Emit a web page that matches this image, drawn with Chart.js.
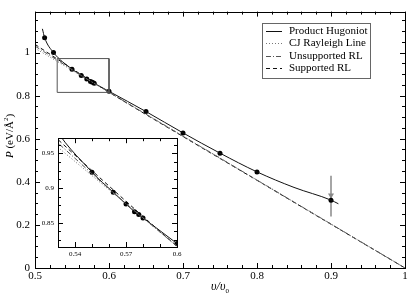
<!DOCTYPE html>
<html>
<head>
<meta charset="utf-8">
<script src="https://cdn.jsdelivr.net/npm/chart.js@4"></script>
<style>
  body { margin: 0; background: #fff; }
  #wrap { position: relative; width: 415px; height: 295px; }
  #main { position: absolute; left: 0; top: 0; }
  #inset { position: absolute; left: 35px; top: 130px; }
</style>
</head>
<body>
<div id="wrap">
  <canvas id="main" width="415" height="295"></canvas>
  <canvas id="inset" width="150" height="130"></canvas>
</div>
<script>
// values
var hugoniotV = [0.51, 0.513, 0.525, 0.55, 0.5625, 0.57, 0.575, 0.58, 0.6, 0.65, 0.7, 0.75, 0.8, 0.85, 0.9, 0.91];
var hugoniotP = [1.11, 1.069, 1.0, 0.923, 0.894, 0.877, 0.866, 0.857, 0.82, 0.726, 0.627, 0.533, 0.446, 0.374, 0.315, 0.298];

var simV = [0.513, 0.525, 0.55, 0.5625, 0.57, 0.575, 0.5775, 0.58, 0.6, 0.65, 0.7, 0.75, 0.8, 0.9];
var simP = [1.069, 1.0, 0.923, 0.894, 0.877, 0.866, 0.862, 0.857, 0.82, 0.726, 0.627, 0.533, 0.446, 0.315];

var rayleighV = [0.5, 1.0];
var rayleighP = [1.02, 0.0];

var unsupV = [0.5, 0.53, 0.56, 0.6, 0.7, 0.8, 0.9, 1.0];
var unsupP = [1.03, 0.965, 0.899, 0.816, 0.612, 0.408, 0.204, 0.0];

var supV = [0.5, 0.53, 0.56, 0.6, 0.7, 0.8, 0.9, 1.0];
var supP = [1.038, 0.97, 0.903, 0.816, 0.61, 0.407, 0.203, 0.0];

var arrowV = [0.9, 0.9];
var arrowP = [0.428, 0.239];
var arrowHeadP = [0.338];

var xTickVals = [0.5, 0.6, 0.7, 0.8, 0.9, 1];
var yTickVals = [0, 0.2, 0.4, 0.6, 0.8, 1];
var insetXTickVals = [0.54, 0.57, 0.6];
var insetYTickVals = [0.85, 0.9, 0.95];
var insetXRange = [0.53, 0.6];
var insetYRange = [0.815, 0.972];

var legendLabels = ["Product Hugoniot", "CJ Rayleigh Line", "Unsupported RL", "Supported RL"];

var SERIF = "'Liberation Serif', 'DejaVu Serif', serif";

function zip(xs, ys) {
	return xs.map(function(x, i) { return {x: x, y: ys[i]}; });
}

function fmt(v) {
	return String(+v.toFixed(3));
}

// inward ticks on all four sides plus frame
var frameTicks = {
	id: 'frameTicks',
	afterDatasetsDraw: function(chart, args, o) {
		var ctx = chart.ctx, a = chart.chartArea;
		var xs = chart.scales.x, ys = chart.scales.y;
		ctx.save();
		ctx.strokeStyle = '#000';
		ctx.lineWidth = 1;
		ctx.strokeRect(Math.round(a.left) + 0.5, Math.round(a.top) + 0.5,
			Math.round(a.right - a.left), Math.round(a.bottom - a.top));
		function isMajor(v, list) {
			return list.some(function(m) { return Math.abs(m - v) < 1e-6; });
		}
		var n, v, p, len;
		ctx.beginPath();
		for (n = Math.ceil(xs.min / o.xStep - 1e-6); n <= Math.floor(xs.max / o.xStep + 1e-6); n++) {
			v = n * o.xStep;
			p = Math.round(xs.getPixelForValue(v)) + 0.5;
			len = isMajor(v, o.xMajor) ? o.majorLen : o.minorLen;
			ctx.moveTo(p, a.bottom); ctx.lineTo(p, a.bottom - len);
			ctx.moveTo(p, a.top); ctx.lineTo(p, a.top + len);
		}
		for (n = Math.ceil(ys.min / o.yStep - 1e-6); n <= Math.floor(ys.max / o.yStep + 1e-6); n++) {
			v = n * o.yStep;
			p = Math.round(ys.getPixelForValue(v)) + 0.5;
			len = isMajor(v, o.yMajor) ? o.majorLen : o.minorLen;
			ctx.moveTo(a.left, p); ctx.lineTo(a.left + len, p);
			ctx.moveTo(a.right, p); ctx.lineTo(a.right - len, p);
		}
		ctx.stroke();
		ctx.restore();
	}
};

var lineStyles = [
	{color: '#111', dash: [], width: 1},
	{color: '#777', dash: [1, 2], width: 1},
	{color: '#555', dash: [5, 2, 1, 2], width: 1},
	{color: '#111', dash: [4, 3], width: 1}
];

var mainDecor = {
	id: 'mainDecor',
	afterDraw: function(chart) {
		var ctx = chart.ctx, a = chart.chartArea;
		ctx.save();
		// legend
		var bx = 262, by = 23, bw = 108, bh = 55;
		ctx.fillStyle = '#fff';
		ctx.fillRect(bx, by, bw, bh);
		ctx.strokeStyle = '#666';
		ctx.lineWidth = 1;
		ctx.strokeRect(bx + 0.5, by + 0.5, bw, bh);
		ctx.font = '11px ' + SERIF;
		ctx.textBaseline = 'middle';
		legendLabels.forEach(function(lab, i) {
			var yy = Math.round(by + 8 + i * 12.3) + 0.5;
			var st = lineStyles[i];
			ctx.beginPath();
			ctx.setLineDash(st.dash);
			ctx.strokeStyle = st.color;
			ctx.moveTo(bx + 4, yy); ctx.lineTo(bx + 20, yy);
			ctx.stroke();
			ctx.setLineDash([]);
			ctx.fillStyle = '#000';
			ctx.textAlign = 'left';
			ctx.fillText(lab, bx + 27, yy);
		});
		// y title
		ctx.save();
		ctx.translate(13, 136);
		ctx.rotate(-Math.PI / 2);
		ctx.textBaseline = 'alphabetic';
		ctx.textAlign = 'left';
		var fIt = 'italic 11px ' + SERIF, fRm = '11px ' + SERIF, fSup = '7px ' + SERIF;
		ctx.font = fIt; var w1 = ctx.measureText('P').width;
		ctx.font = fRm; var w2 = ctx.measureText(' (eV/\u00C5').width;
		ctx.font = fSup; var w3 = ctx.measureText('2').width;
		ctx.font = fRm; var w4 = ctx.measureText(')').width;
		var x0 = -(w1 + w2 + w3 + w4) / 2;
		ctx.fillStyle = '#000';
		ctx.font = fIt; ctx.fillText('P', x0, 0);
		ctx.font = fRm; ctx.fillText(' (eV/\u00C5', x0 + w1, 0);
		ctx.font = fSup; ctx.fillText('2', x0 + w1 + w2, -5);
		ctx.font = fRm; ctx.fillText(')', x0 + w1 + w2 + w3, 0);
		ctx.restore();
		// x title
		var fX = 'italic 12px ' + SERIF, fSub = '7px ' + SERIF;
		ctx.font = fX; var t1 = ctx.measureText('\u03C5/\u03C5').width;
		ctx.font = fSub; var t2 = ctx.measureText('0').width;
		var cx = (a.left + a.right) / 2 - (t1 + t2) / 2;
		ctx.textAlign = 'left';
		ctx.textBaseline = 'alphabetic';
		ctx.font = fX; ctx.fillText('\u03C5/\u03C5', cx, 290);
		ctx.font = fSub; ctx.fillText('0', cx + t1, 293);
		ctx.restore();
	}
};

function curveSets(withRect) {
	var sets = [];
	if (withRect) {
		sets.push({
			data: zip([insetXRange[0], insetXRange[1], insetXRange[1], insetXRange[0], insetXRange[0]],
				[insetYRange[1], insetYRange[1], insetYRange[0], insetYRange[0], insetYRange[1]]),
			showLine: true, borderColor: '#555', borderWidth: 1, pointRadius: 0, tension: 0
		});
	}
	sets.push({
		label: legendLabels[1], data: zip(rayleighV, rayleighP), showLine: true,
		borderColor: lineStyles[1].color, borderDash: lineStyles[1].dash, borderWidth: 1, pointRadius: 0
	});
	sets.push({
		label: legendLabels[2], data: zip(unsupV, unsupP), showLine: true,
		borderColor: lineStyles[2].color, borderDash: lineStyles[2].dash, borderWidth: 1, pointRadius: 0,
		cubicInterpolationMode: 'monotone'
	});
	sets.push({
		label: legendLabels[3], data: zip(supV, supP), showLine: true,
		borderColor: lineStyles[3].color, borderDash: lineStyles[3].dash, borderWidth: 1, pointRadius: 0,
		cubicInterpolationMode: 'monotone'
	});
	sets.push({
		label: legendLabels[0], data: zip(hugoniotV, hugoniotP), showLine: true,
		borderColor: lineStyles[0].color, borderWidth: 1, pointRadius: 0,
		cubicInterpolationMode: 'monotone'
	});
	sets.push({
		data: zip(simV, simP), showLine: false, pointRadius: 2.5,
		pointBackgroundColor: '#000', pointBorderColor: '#000', pointBorderWidth: 0
	});
	if (withRect) {
		sets.push({
			data: zip(arrowV, arrowP), showLine: true, borderColor: '#888', borderWidth: 1.5, pointRadius: 0
		});
		sets.push({
			data: zip([arrowV[0]], arrowHeadP), showLine: false, pointStyle: 'triangle', rotation: 180,
			pointRadius: 3.5, pointBackgroundColor: '#888', pointBorderColor: '#888', pointBorderWidth: 0
		});
	}
	return sets;
}

function axis(min, max, vals, font, pad, fit) {
	return {
		type: 'linear', min: min, max: max,
		afterBuildTicks: function(s) { s.ticks = vals.map(function(v) { return {value: v}; }); },
		ticks: {
			font: font, color: '#000', padding: pad, autoSkip: false, maxRotation: 0,
			callback: function(v) { return fmt(v); }
		},
		grid: {display: false, drawTicks: false},
		border: {display: false},
		afterFit: fit
	};
}

Chart.defaults.font.family = SERIF;

new Chart(document.getElementById('main'), {
	type: 'scatter',
	data: {datasets: curveSets(true)},
	options: {
		responsive: false, animation: false, devicePixelRatio: 1,
		layout: {padding: {top: 3, right: 10, left: 0, bottom: 0}},
		scales: {
			x: axis(0.5, 1, xTickVals, {size: 11, family: SERIF}, 2, function(s) { s.height = 27; }),
			y: axis(0, 1.19, yTickVals, {size: 11, family: SERIF}, 5, function(s) { s.width = 35; })
		},
		plugins: {
			legend: {display: false}, tooltip: {enabled: false},
			frameTicks: {xStep: 0.02, yStep: 0.05, xMajor: xTickVals, yMajor: yTickVals, majorLen: 5, minorLen: 3}
		}
	},
	plugins: [frameTicks, mainDecor]
});

new Chart(document.getElementById('inset'), {
	type: 'scatter',
	data: {datasets: curveSets(false)},
	options: {
		responsive: false, animation: false, devicePixelRatio: 1,
		layout: {padding: {top: 7, right: 8, left: 0, bottom: 0}},
		scales: {
			x: axis(insetXRange[0], insetXRange[1], insetXTickVals, {size: 7, family: SERIF}, 3, function(s) { s.height = 13; }),
			y: axis(insetYRange[0], insetYRange[1], insetYTickVals, {size: 7, family: SERIF}, 4, function(s) { s.width = 23; })
		},
		plugins: {
			legend: {display: false}, tooltip: {enabled: false},
			frameTicks: {xStep: 0.01, yStep: 0.0125, xMajor: insetXTickVals, yMajor: insetYTickVals, majorLen: 5, minorLen: 3}
		}
	},
	plugins: [frameTicks]
});
</script>
</body>
</html>
